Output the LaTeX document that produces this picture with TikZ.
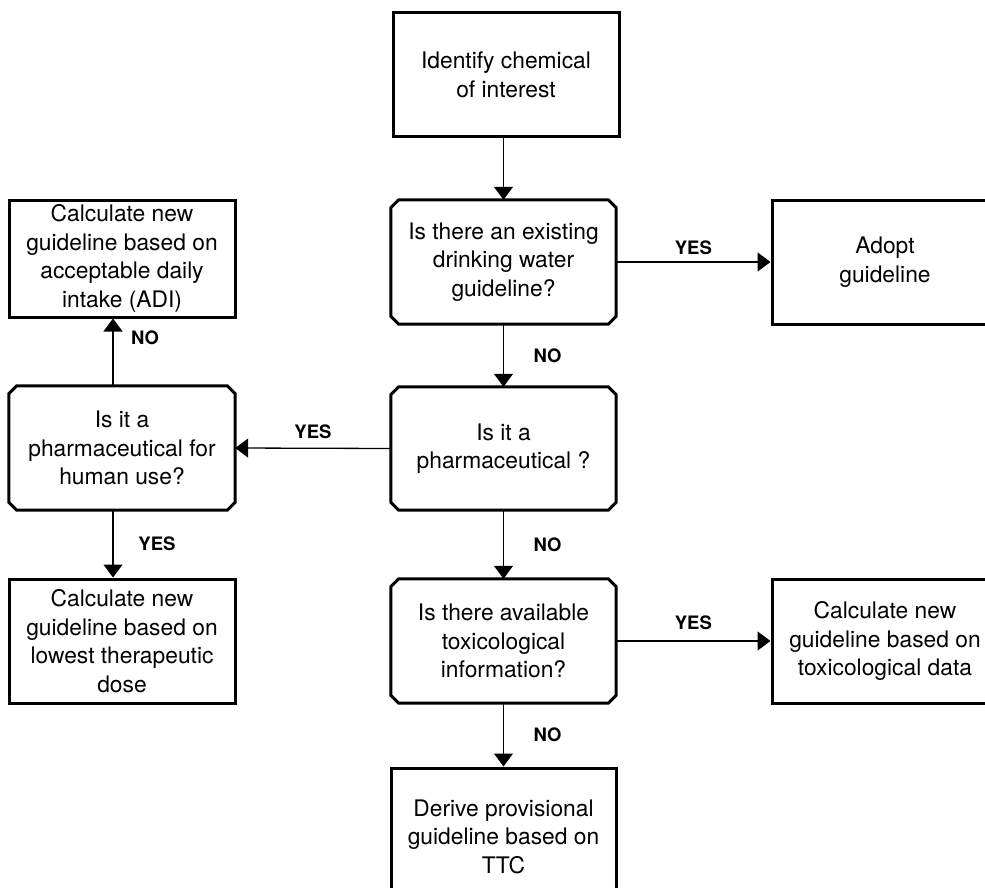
\documentclass[tikz,border=0pt]{standalone}
\usepackage{fontspec}
\setmainfont{TeX Gyre Heros}
\usetikzlibrary{arrows.meta}
\tikzset{
  boxline/.style={line width=3pt, black},
  plainbox/.style={draw, boxline, rectangle, inner sep=0pt, align=center,
    font=\fontsize{22.8pt}{28.5pt}\selectfont},
  qbox/.style={draw=none, rectangle, inner sep=0pt, align=center,
    font=\fontsize{22.8pt}{28.5pt}\selectfont},
  conn/.style={line width=1.3pt, -{Triangle[width=19pt,length=13pt]}},
  lbl/.style={font=\fontsize{18.5pt}{20pt}\selectfont\bfseries, inner sep=0pt}
}
\newcommand\chamfbox[1]{%
  \draw[boxline, line join=miter]
    ([xshift=8pt]#1.north west) -- ([xshift=-8pt]#1.north east) --
    ([yshift=-8pt]#1.north east) -- ([yshift=8pt]#1.south east) --
    ([xshift=-8pt]#1.south east) -- ([xshift=8pt]#1.south west) --
    ([yshift=8pt]#1.south west) -- ([yshift=-8pt]#1.north west) -- cycle;}
\begin{document}
\begin{tikzpicture}[x=1pt,y=1pt]
\useasboundingbox (0,0) rectangle (985,-888);
\clip (0,0) rectangle (985,-888);
% nodes
\node[plainbox, minimum width=226pt, minimum height=124pt] (id) at (506,-75) {Identify chemical\\of interest};
\node[qbox, minimum width=225pt, minimum height=124pt] (q1) at (503.5,-262) {Is there an existing\\drinking water\\guideline?};
\node[plainbox, minimum width=226pt, minimum height=124pt] (adopt) at (885,-262) {Adopt\\guideline};
\node[plainbox, minimum width=226pt, minimum height=117pt] (adi) at (122,-258.5) {Calculate new\\guideline based on\\acceptable daily\\intake (ADI)};
\node[qbox, minimum width=226pt, minimum height=124pt] (q2h) at (122,-448) {Is it a\\pharmaceutical for\\human use?};
\node[qbox, minimum width=225pt, minimum height=123pt] (q2) at (503.5,-448.5) {Is it a\\pharmaceutical ?};
\node[plainbox, minimum width=226pt, minimum height=124pt] (dose) at (122,-641) {Calculate new\\guideline based on\\lowest therapeutic\\dose};
\node[qbox, minimum width=225pt, minimum height=124pt] (q3) at (503.5,-641) {Is there available\\toxicological\\information?};
\node[plainbox, minimum width=226pt, minimum height=124pt] (tox) at (885,-641) {Calculate new\\guideline based on\\toxicological data};
\node[plainbox, minimum width=225pt, minimum height=137pt] (ttc) at (503.5,-836.5) {Derive provisional\\guideline based on\\TTC};
\chamfbox{q1}
\chamfbox{q2h}
\chamfbox{q2}
\chamfbox{q3}
% connectors
\draw[conn] (id.south -| q1.north) -- (q1.north);
\draw[conn] (q1.east) -- node[lbl, midway, yshift=14pt] {YES} (adopt.west);
\draw[conn] (q1.south) -- node[lbl, midway, xshift=44pt] {NO} (q2.north);
\draw[conn] (q2.west) -- node[lbl, midway, yshift=16pt] {YES} (q2h.east);
\draw[conn] ([xshift=-9pt]q2h.north) -- node[lbl, pos=0.72, xshift=32pt] {NO} ([xshift=-9pt]adi.south);
\draw[conn] ([xshift=-9pt]q2h.south) -- node[lbl, midway, xshift=44pt] {YES} ([xshift=-9pt]dose.north);
\draw[conn] (q2.south) -- node[lbl, midway, xshift=44pt] {NO} (q3.north);
\draw[conn] (q3.east) -- node[lbl, midway, yshift=18pt] {YES} (tox.west);
\draw[conn] (q3.south) -- node[lbl, midway, xshift=44pt] {NO} (ttc.north);
\end{tikzpicture}
\end{document}
